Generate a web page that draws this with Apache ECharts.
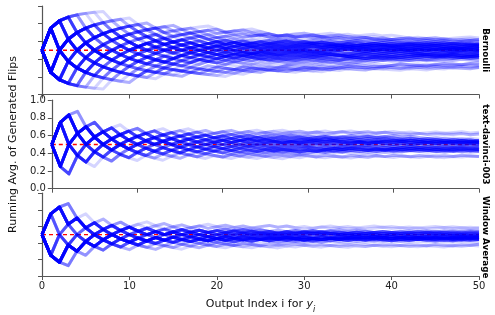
<!DOCTYPE html>
<html><head><meta charset="utf-8">
<script src="https://cdn.jsdelivr.net/npm/echarts@6/dist/echarts.min.js"></script>
<style>html,body{margin:0;padding:0;background:#fff}#c{width:495px;height:315px}</style>
</head><body><div id="c"></div>
<script>
// ---------------- data ----------------
const panelNames = ['Bernoulli', 'text-davinci-003', 'Window Average'];
const xTicks = [0, 10, 20, 30, 40, 50];
const yTicks = [0, 0.2, 0.4, 0.6, 0.8, 1.0];
const priorValue = 0.5;   // value of the running average at index 0
const refLevel = 0.5;     // red dashed reference

// generated flips (1 = heads, 0 = tails), 50 per sequence
const flipsBernoulli = [
'1101110010 0011101100 0101111011 0010001101 1100100111',
'0010001101 1000110010 1110010001 0110001011 0100011000',
'1110110111 0100111001 1011100110 1111010010 1101101110',
'0100011100 0010110000 1101001001 1000111010 0011010001',
'1011000101 1101100111 0001001110 1100101000 1011011100',
'0000110100 1011000111 0110010011 1000100101 1001100011',
'1100111011 0010001011 1101100010 0111001101 0110001110',
'0111000110 1100011001 0010111000 1101001110 0011011001',
'1010011111 0110010001 1100110111 0100100110 1110001011',
'0001100010 0100111000 0110100011 0001101000 0110010100',
'1101001100 1110011010 0011100101 1011001110 0100110011',
'0110111000 1001011101 0001100010 1110010011 0110100110',
'1000100111 0110001000 1101110011 0001011000 1010011101',
'0111101100 0111011010 0101101110 1100111001 0111010110',
'1001110001 0000110110 1011000111 0010011100 1000110101',
'0100100011 1011100100 0110011100 0100011011 1000101100',
'1110001010 0111100101 1100001101 1010111001 0111011010',
'0011001101 1100100011 0100110101 0011101001 1001000110',
'1100010110 1110101100 0111001011 1101100100 0110111010',
'0001110001 1011010000 1101100110 0100011101 0010100011',
'1011101100 0110000111 0010110100 1110011001 1010011100',
'0110010000 1100111010 1001001110 0011010001 1100101101',
'1111010011 1000110010 1101100101 1100011110 1001101011',
'0010110001 0011001110 0100011010 0110000100 1101000110',
'1001100111 0100101100 1110110001 1010010011 0011010101',
'0101001110 0001101101 1000110011 0111000101 1001110110',
'1100100001 1101110011 0101100100 0011101110 0010101101',
'0011111001 0001001101 1100011000 1011100110 1100010010',
'1010110001 1100011101 0011010011 1001101110 0110110011',
'0100011000 1010001101 1100100011 0100110001 1011001001',
'1001101110 0010111101 0011000110 1101110100 1011100011',
'0110000101 1100100110 1001110001 0010011011 0100101000',
'1111001000 1101011001 1000111010 0110100111 0001101011',
'0000100111 0011001100 0111010001 1010000110 0111001001',
'1011011001 1100010111 0011011100 1000111011 0101100110',
'0101110011 0100011000 1101001110 0110010111 0001100101',
'1000011011 1010110001 0111001100 0101101000 1110010110',
'0110100110 0011110010 1000100111 1101001011 0010110100',
'1101110100 0110001100 1101011100 0010110011 1011000111',
'0010010110 1000111001 0010100011 0100010110 0110001000',
'1110011100 0101100011 1010011110 0110101001 1100111010',
'0001011011 0010000110 1101100100 1010011000 1101001101',
'1011000110 1110101001 0000111011 0101100010 0111011001',
'0100111101 0010011000 1100101110 0011100101 1000110110',
'1100001001 1011101100 0100110111 1010001100 1101010011',
'0011100010 0100010011 1100101000 0111011010 0010011101',
'1000111011 0011000110 1011110001 1001101110 1001000110',
'0111001000 1101100101 0011000111 0110110010 0101110001',
'1111101111 0010011000 1011001001 1100010110 0101100011',
'0000000100 1101100111 0011010110 1110001011 0110101100',
'0000100000 1101011100 1110110101 0010011101 1001101110',
'1111011010 0110111000 1001110110 0100101110 0110110001',
'1101111100 1010001100 0110010111 1000101100 0101001100',
'0010000110 1100111010 1100011101 0111010010 1100110111',
'1011111011 0000110011 0100010001 1011001110 1000101101',
'0100001001 0011000110 1001100100 0101110001 1011000101',
'1110110011 1110010101 0011101001 0110011111 0011010110',
'0001000010 0111001100 1000101001 1010001110 0100111011',
'1100111110 1100110101 0001011100 1011110110 1001001011',
'0010011000 1001000010 1100111000 1000110101 0001001100',
'1001111101 0011100011 0110101100 0111110001 1010110100',
'0110000011 0100111001 0010001110 0011000101 1101000011',
'1011101111 0001011001 1100101110 0110001011 0111001000',
'0100010001 1000110100 0111001001 1000100110 0010110111',
'1110001111 0101010011 1000111101 0010011011 1011100100',
'0011000001 0110011100 0100100011 1101001100 0101100011',
'1100110111 1001010000 1110011101 1001110100 1001100111',
'0001110010 0100001101 1000100110 0110100010 1110011000',
'1010111010 1100110011 1001010110 1100011100 0101101110',
'0110001100 0101011100 0011101001 0100110101 1000011001',
'1001100101 1101101011 0000111010 1011000100 1110110011',
'0000111010 0110010001 1001010011 0000101101 1011010001',
'1101100111 1010011100 0101111001 1101000111 0010110101',
'0011010001 0000110111 0010011000 1001100110 1100010001',
'1110111000 1101011001 0110110001 0011101110 0101001101',
'0100110011 1000010100 1100100011 1010001001 0011010100',
'1011001110 0110100101 1110001101 0011011100 1101001010',
'0110101000 1100010110 0011010011 0100111000 0111010011',
'1000110110 1011000111 0110111001 1001010010 1011100001',
'0111000010 0010111001 1010000110 1110011010 0100011001',
'1110111101 1101101110 0110100101 0010010001 0100100010',
'0001000100 0010010001 1000100101 1101011011 0110110101',
'0100010000 1001000100 0101000010 1000100101 0010001001',
'1101110111 0110101011 1011001101 0101011010 1101100110',
'0000010001 0100001000 1010010001 0011000100 0100110001',
'1011111011 1011100111 0100100100 1000100010 0010100100',
'0100000010 0001001000 0101110110 1110110101 0100111010',
'1111110110 1001011100 1101110101 1001101100 0111010011',
'0000011000 0011000100 0110001001 0100100011 1000100100',
'1101101111 1010111011 0111000101 1010011000 0101010110',
'0010000101 0000100011 0010010100 0011010001 0010101010',
'1010111101 1111011010 1110010111 0011001001 1000100100',
'0000001010 0100100100 0010011000 1001010100 0101000101',
'1110101111 1101001110 1010110111 0110101101 0010010101',
'0001001000 0110001010 0001000010 0101100101 1000110010',
'1011101100 1110011110 1101101011 1001001101 1100100111',
'0100100000 1000101001 0010000101 0101100100 1001010011',
'0000101000 1100001000 1001100110 0110010110 1010101101',
'1111111010 0110110100 1000110101 0100100010 0110001001',
'0010001001 0001000011 1001010000 0010100010 0100101000'
];
const flipsDavinci = [
'1101101001 0110101101 1010110100 1101011010 0100101001',
'1101101011 0110110101 1011011010 1101101011 0101101101',
'1011010010 1101001011 0100101101 0010110100 1011010010',
'0010110100 1010010110 0100101001 0110100101 0010101101',
'1101001011 0101101001 0110101101 0110100101 1010010100',
'1001011010 0101001011 0100101101 0010110100 1010010110',
'0110101101 0010110101 1010010110 1011010010 1101001011',
'1100100101 0010100101 1010010010 0101101001 0100100101',
'0100100101 0010010100 1001001010 0100100101 0010100100',
'1110010100 1011010010 0101001011 0100101010 0110100101',
'1011010110 1001011010 0101101011 0100101101 0110100101',
'0100110100 1011001010 0101001011 0010110100 1010010101',
'1101001010 1101011010 0101101001 0110100101 1010010110',
'0010101101 0101001010 1101001010 0101101001 0100101101',
'1101010110 1010110101 1010110100 1101011010 0101001001',
'0110100101 1010010101 1010010100 1010110100 1001011001',
'1011011010 1101101101 1010110110 1011010110 1010110101',
'0101001001 0110100101 0010100101 1010010010 1101001010',
'1100101101 0010110101 1010010110 1001011011 0100101101',
'0110100101 1010010010 1101001010 0101010010 1011010010',
'1101011010 0101101101 0010110101 1010110100 1011010110',
'1001001010 0101101001 0100101001 0110100100 1010010101',
'0101101011 0100101101 0110100101 1010010110 1001011010',
'1110100101 1010010110 1010010101 1010010110 1010010101',
'0010110100 1010010100 1010110010 0101001011 0010100101',
'1100101010 1101010010 1101001010 1101010100 1011010100',
'0011010101 1010010110 1010110100 1010110101 0011010110',
'1011010110 1010101101 0110101011 0101101011 0100101000',
'0100101001 0101001010 0100101001 0101001010 1101001010',
'1001001010 0100100100 1010010010 0100101001 0010010100',
'0110110110 1101011011 0110101101 1011011010 0110101101',
'0110110100 1011010010 1101101001 0110100101 1011010010',
'1010010100 1001010010 1010010101 0010100101 1010010100',
'1011010100 1010010100 1010010101 0010100101 0101001010',
'0101101011 0100101101 0110100101 1010010110 1001011010',
'0010100100 1001010010 0100100101 0010010100 1001001010',
'1010100101 1011010010 1101010010 1010110100 1010101101',
'1101011010 1101011011 0101101010 0101001010 0100101001',
'1101101010 0101101101 0101011010 1101101010 0101001010',
'0110010101 1010010101 0101101010 1001010101 1010010110',
'1110101101 0010110101 1010010110 1001011010 0101101010',
'0100100101 1010010100 1010010101 0010110100 1010010110',
'1101101011 0101001010 1101001011 0100101101 0010110101',
'1010010010 1001010011 0100101001 0110100101 0100101001',
'1101011011 0101101001 0110101101 1010110101 0100100100',
'0010010110 1001011010 0101001010 0101101001 0100101010',
'1011001101 0010110101 1010010110 0101101001 0110100101',
'1100101001 0100101101 0010110100 1001010010 1101001010',
'0110110101 1011010110 1001011010 0101101010 0100101001',
'1001010100 1010010100 1001010010 1101001010 0100101001',
'1101010010 1101001011 0100101101 0010110100 1011010010',
'0100101001 0010100100 1010010101 1010110101 1011010110',
'1100110101 1011010011 0101101001 0110101101 0100100101',
'0010101001 0101001010 0101101001 0100101010 0101001010',
'1011010101 1010110100 1011010010 1101001011 0100101101',
'1101001010 0100101001 0110100101 0010110100 1010010100',
'0110101001 0110101101 0010110101 1010010110 1001011010',
'1010010110 1001010010 1101001010 0101101001 0100101001',
'1101001011 0100101101 0110100101 1010010110 1011010110',
'0101101001 0010110100 1010010101 0010100101 1010010100'
];
const flipsWindow = [
'1101001011 0100101101 0010110100 1011010010 1101001010',
'0010110100 1011010010 1101001010 0101101001 0100101101',
'1100101101 0010110100 1010010110 1001010010 1101001010',
'0011010010 1101001011 0100101001 0110100101 0010110100',
'0100100101 0010010100 1001001010 0100100101 0010100101',
'0010101101 0010110100 1011010010 0101101001 0101001011',
'1110010101 0010110100 1101001010 0110101001 0101101010',
'0001101010 0101101001 0110100101 0010110100 1010010110',
'1101001010 0110100101 1010010100 1011010010 0101101001',
'0010110101 1010010100 1010110100 1001011010 0101001010',
'0010010100 1001001010 0100100101 0010010100 1001001010',
'0011010100 1011010010 0101001011 0100101101 0010100101',
'1101001101 0010110101 1010010110 1001011010 0101101011',
'0010100101 1010010101 0010110100 1010010100 1010010101',
'1001001010 0100101001 0010010100 1001010010 0100100101',
'0100101101 0010110100 1010010110 1001010010 1101001010',
'1101010011 0100101101 0110100101 1011010010 1101011010',
'0010110010 1001011010 0101001010 0110100101 0010110100',
'1100110100 1011010010 1101001011 0100101001 0110100101',
'0011001011 0100101010 0101101001 0101001011 0100101101',
'1101001011 0010101101 0100101101 0010110100 1011010010',
'0010101101 0100101001 0110100101 0010110100 1010010101',
'1011001010 1101001011 0101101001 0110100101 1010010110',
'0100110100 1010010101 1010010100 1010110100 1001010010',
'1110100101 0010110101 0010110100 1011010010 1101001010',
'0001011010 0101101001 0101001011 0100101101 0010110100',
'1101001010 1101010010 1101001011 0100101101 0110100101',
'0010110100 1010010110 1001010010 1101001010 0101101001',
'1101011010 0110101101 1010110101 0110101101 0101101010',
'0110010100 1010110100 1010010100 1011010010 0101001010',
'1011010110 1011010101 1010110100 1101010110 1010110101',
'0010110101 0010100101 1010010100 1010110100 1001011010',
'1100101101 0100101001 0110100101 1010010101 0010110100',
'0011010100 1010010110 1001011010 0101001010 1101001010',
'1101001011 0101101001 0110100101 1011010010 1101010110',
'0100101001 0110100101 0010110100 1010010100 1010010101',
'1011010010 0101101001 0101001011 0100101101 0010110101',
'0010110100 1001010010 1101001010 0101101001 0110100101',
'1110010100 1011010010 1101001011 0100101101 0110100101',
'0001101010 0101001010 0110100101 0010110100 1010010101',
'0010010100 1001010010 1010010110 1011010110 1010110101',
'0010110100 1010010100 1011010010 0101001010 0110100101',
'1100101010 0110100101 1010010110 1001010010 1101001011',
'0011010010 0101101001 0100101101 0010110100 1010010101',
'1101010011 0100101101 0010110101 1010010110 1001011010',
'0010101001 0110100101 0010110100 1010010100 1010010110',
'1011010010 0101101001 0110100101 1010010101 0010110100',
'0100101101 0010110100 1011010010 1101001010 0101101001',
'1101001101 0010110101 1010010110 1010010110 1011010010',
'0011001010 0101101001 0101001010 0110100101 0010110100',
'1101011010 1101010110 0101001010 0100101001 0010100101',
'0001101010 0101101001 0100101101 0010110100 1010010101',
'1110010101 0010110101 1010010110 1001011010 0101101001',
'0010110100 1010010101 0010100101 1010010100 1010110100',
'1101001011 0100101001 0110100101 1010010110 1001010010',
'0100101001 0110100101 1010010100 1011010010 0101001011',
'1010110100 1011010010 1101001011 0100101101 0110101101',
'0010101101 0010110100 1010010100 1001010010 1101001010',
'0100100101 0010100101 0010110100 1010010101 0010100100',
'0011010100 1010010101 0010110100 1010010110 1001010010'
];
const panelFlips = [flipsBernoulli, flipsDavinci, flipsWindow];

// ---------------- chart ----------------
function runningAvg(seq) {
  const f = seq.replace(/\s/g, '');
  let s = priorValue;
  const out = [[0, priorValue]];
  for (let i = 0; i < f.length; i++) { s += Number(f[i]); out.push([i + 1, s / (i + 2)]); }
  return out;
}
const FONT = '"DejaVu Sans", Verdana, sans-serif';
const AXC = '#555';
const grids = [
  { left: 42, right: 16, top: 6, height: 88.5 },
  { left: 42, right: 16, top: 100.2, height: 88.5 },
  { left: 42, right: 16, top: 193.2, height: 88 }
];
const xAxes = [], yAxes = [], series = [];
grids.forEach((g, k) => {
  xAxes.push({
    gridIndex: k, type: 'value', min: xTicks[0], max: xTicks[xTicks.length - 1], interval: xTicks[1] - xTicks[0],
    axisLine: { show: true, lineStyle: { color: AXC, width: 1.2 } },
    axisTick: { show: true, length: 4, lineStyle: { color: AXC, width: 1 } },
    axisLabel: { show: k === 2, margin: 5, fontFamily: FONT, fontSize: 10, color: '#222' },
    splitLine: { show: false },
    name: k === 2 ? '{n|Output Index i for }{it|y}{sub|i}' : '',
    nameLocation: 'middle', nameGap: 19,
    nameTextStyle: {
      rich: {
        n: { fontFamily: FONT, fontSize: 11, color: '#111', lineHeight: 14, verticalAlign: 'middle' },
        it: { fontFamily: FONT, fontSize: 11, fontStyle: 'italic', color: '#111', lineHeight: 14, verticalAlign: 'middle' },
        sub: { fontFamily: FONT, fontSize: 8, fontStyle: 'italic', color: '#111', lineHeight: 19, verticalAlign: 'bottom' }
      }
    }
  });
  yAxes.push({
    gridIndex: k, type: 'value', min: yTicks[0], max: yTicks[yTicks.length - 1], interval: yTicks[1] - yTicks[0],
    axisLine: { show: true, lineStyle: { color: AXC, width: 1.2 } },
    axisTick: { show: true, length: 4, lineStyle: { color: AXC, width: 1 } },
    axisLabel: { show: k === 1, margin: 6, fontFamily: FONT, fontSize: 10, color: '#222', formatter: v => v.toFixed(1) },
    splitLine: { show: false },
    name: k === 1 ? 'Running Avg. of Generated Flips' : '',
    nameLocation: 'middle', nameGap: 23,
    nameTextStyle: { fontFamily: FONT, fontSize: 11, color: '#111' }
  });
  series.push({
    type: 'line', xAxisIndex: k, yAxisIndex: k, silent: true, symbol: 'none', z: 1,
    data: [[xTicks[0], refLevel], [xTicks[xTicks.length - 1], refLevel]],
    lineStyle: { color: '#ff0000', width: 1.4, type: [4, 3] }
  });
  panelFlips[k].forEach(seq => {
    series.push({
      type: 'line', xAxisIndex: k, yAxisIndex: k, silent: true, symbol: 'none', z: 2,
      data: runningAvg(seq),
      lineStyle: { color: '#0000ff', width: 3, opacity: 0.17, join: 'round' }
    });
  });
});
const centers = grids.map(g => g.top + g.height / 2);
const chart = echarts.init(document.getElementById('c'), null, { renderer: 'canvas' });
chart.setOption({
  animation: false,
  backgroundColor: '#fff',
  grid: grids,
  xAxis: xAxes,
  yAxis: yAxes,
  series: series,
  graphic: panelNames.map((n, k) => ({
    type: 'text', x: 485, y: centers[k], rotation: -Math.PI / 2,
    style: { text: n, font: 'bold 8.7px ' + FONT, fill: '#000', align: 'center', verticalAlign: 'middle' }
  }))
});
</script>
</body></html>
